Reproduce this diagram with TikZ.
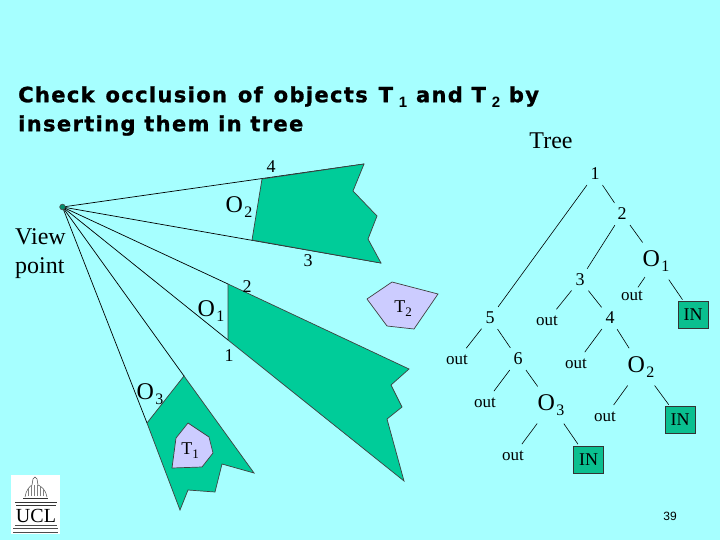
\documentclass[tikz,border=0pt]{standalone}
\usepackage{xcolor}
\usepackage{fontspec}
\setmainfont{Liberation Serif}
\setsansfont{Liberation Sans}
\newfontfamily\titlefont[LetterSpace=6.5,FakeBold=1.2]{DejaVu Sans Bold}
\definecolor{page}{HTML}{A6FFFF}
\definecolor{solid}{HTML}{00CC99}
\definecolor{target}{HTML}{CCCCFF}
\definecolor{leaf}{HTML}{0ABF8F}
\newcommand{\obj}[2]{#1\kern1.5pt\raisebox{-5pt}{\fontsize{16}{16}\selectfont #2}}
\newcommand{\tgt}[2]{#1\raisebox{-4pt}{\fontsize{13}{13}\selectfont #2}}
\newcommand{\ttl}[1]{T\kern6pt\raisebox{-5pt}{\sffamily\bfseries\fontsize{15}{15}\selectfont #1}}
\newcommand{\wgap}{\kern2.2pt}
\begin{document}
\begin{tikzpicture}[x=1pt,y=-1pt,inner sep=0pt,
    solidobj/.style={draw=black!75,fill=solid,line width=0.7pt},
    targetobj/.style={draw=black!75,fill=target,line width=0.7pt},
    sight/.style={draw=black,line width=0.7pt},
    tree/.style={font=\fontsize{18}{18}\selectfont},
    bigtree/.style={font=\fontsize{24}{24}\selectfont,inner sep=3pt},
    outleaf/.style={font=\fontsize{17}{17}\selectfont,inner sep=2pt},
    inleaf/.style={draw=black!80,fill=leaf,font=\fontsize{18}{18}\selectfont,minimum width=30pt,minimum height=27pt},
    branch/.style={draw=black,line width=0.6pt,shorten <=6pt,shorten >=6pt},
    heading/.style={font=\titlefont\fontsize{21}{29}\selectfont,anchor=west,align=left}]
    \fill[page] (0,0) rectangle (720,540);
    % sight lines
    \coordinate (view) at (62.5,207);
    \coordinate (o2top) at (364,164);
    \coordinate (o2bot) at (381,263);
    \coordinate (o1top) at (228,284);
    \coordinate (o1bot) at (228,340);
    \coordinate (o3top) at (184,376);
    \coordinate (o3bot) at (147,423);
    \draw[sight] (view)--(o2top);
    \draw[sight] (view)--(o2bot);
    \draw[sight] (view)--(o1top);
    \draw[sight] (view)--(o1bot);
    \draw[sight] (view)--(o3top);
    \draw[sight] (view)--(o3bot);
    % objects
    \draw[solidobj] (262,179)--(o2top)--(353,191)--(377,216)--(368,239)--(o2bot)--(252,240)--cycle;
    \draw[solidobj] (o1top)--(409,369)--(391,385)--(402,407)--(387,419)--(404,481)--(o1bot)--cycle;
    \draw[solidobj] (o3top)--(254,473)--(222,464)--(215,492)--(188,490)--(180,510)--(o3bot)--cycle;
    \draw[targetobj] (188,423)--(209,437)--(213,453)--(202,467)--(172,468)--(176,438)--cycle;
    \draw[targetobj] (392,282)--(438,294)--(414,329)--(387,326)--(367,299)--cycle;
    \draw[black!70,fill=solid!70!black,line width=0.6pt] (view) circle (2.8);
    % labels of the scene
    \node[heading] (title) at (18,111) {Check\wgap{} occlusion\wgap{} of\wgap{} objects\wgap{} \ttl{1} and \ttl{2} by\\inserting them in tree};
    \node[font=\fontsize{24}{24}\selectfont] (treetitle) at (551,141) {Tree};
    \node[font=\fontsize{24}{29}\selectfont,align=left] (viewpoint) at (40.5,254) {View\\point};
    \node[tree] (s4) at (271,167) {4};
    \node[tree] (s3) at (308,261) {3};
    \node[tree] (s2) at (247,287) {2};
    \node[tree] (s1) at (229,356) {1};
    \node[bigtree] (so2) at (239,207) {\obj{O}{2}};
    \node[bigtree] (so1) at (211,311) {\obj{O}{1}};
    \node[bigtree] (so3) at (150,394) {\obj{O}{3}};
    \node[tree] (t1) at (190,451) {\tgt{T}{1}};
    \node[tree] (t2) at (403,309) {\tgt{T}{2}};
    % tree
    \node[tree] (n1) at (595,174) {1};
    \node[tree] (n2) at (622,214) {2};
    \node[tree] (n3) at (580,280) {3};
    \node[tree] (n4) at (610,318) {4};
    \node[tree] (n5) at (490,318) {5};
    \node[tree] (n6) at (518,359) {6};
    \node[bigtree] (no1) at (656,261) {\obj{O}{1}};
    \node[bigtree] (no2) at (641,367) {\obj{O}{2}};
    \node[bigtree] (no3) at (551,405) {\obj{O}{3}};
    \node[outleaf] (out1) at (632,296) {out};
    \node[outleaf] (out2) at (547,321) {out};
    \node[outleaf] (out3) at (457,360) {out};
    \node[outleaf] (out4) at (576,364) {out};
    \node[outleaf] (out5) at (485,403) {out};
    \node[outleaf] (out6) at (605,417) {out};
    \node[outleaf] (out7) at (513,456) {out};
    \node[inleaf] (in1) at (693,315) {IN};
    \node[inleaf] (in2) at (680,420) {IN};
    \node[inleaf] (in3) at (588.5,459.5) {IN};
    \draw[branch] (n1)--(n5);
    \draw[branch] (n1)--(n2);
    \draw[branch] (n2)--(n3);
    \draw[branch] (n2)--(no1);
    \draw[branch] (n3)--(out2);
    \draw[branch] (n3)--(n4);
    \draw[branch,shorten <=3pt,shorten >=2pt] (no1)--(out1);
    \draw[branch,shorten >=2pt] (no1)--(in1);
    \draw[branch] (n5)--(out3);
    \draw[branch] (n5)--(n6);
    \draw[branch] (n4)--(out4);
    \draw[branch] (n4)--(no2);
    \draw[branch] (n6)--(out5);
    \draw[branch] (n6)--(no3);
    \draw[branch] (no2)--(out6);
    \draw[branch,shorten >=2pt] (no2)--(in2);
    \draw[branch] (no3)--(out7);
    \draw[branch,shorten >=2pt] (no3)--(in3);
    % logo
    \fill[white] (11,475) rectangle (60,534);
    \draw[black!70,line width=0.5pt] (25,497)..controls (26,490) and (30,486)..(32,485)--(33,479)--(35,477)--(37,479)--(38,485)..controls (41,486) and (46,490)..(47,497);
    \draw[black!50,line width=0.5pt] (28,496)--(28,489) (31,496)--(31,486) (34,496)--(34,485) (37,496)--(37,485) (40,496)--(40,486) (43,496)--(43,489);
    \draw[black!80,line width=0.6pt] (23,498)--(48,498) (15,502)--(57,502) (16,505)--(56,505);
    \draw[black!70,line width=0.5pt] (15,525)--(57,525) (13,528)--(58,528) (13,532)--(58,532);
    \node[font=\fontsize{20}{20}\selectfont] (ucl) at (36,516) {UCL};
    \node[font=\sffamily\fontsize{12}{12}\selectfont] (pageno) at (670,516) {39};
  \end{tikzpicture}
\end{document}
